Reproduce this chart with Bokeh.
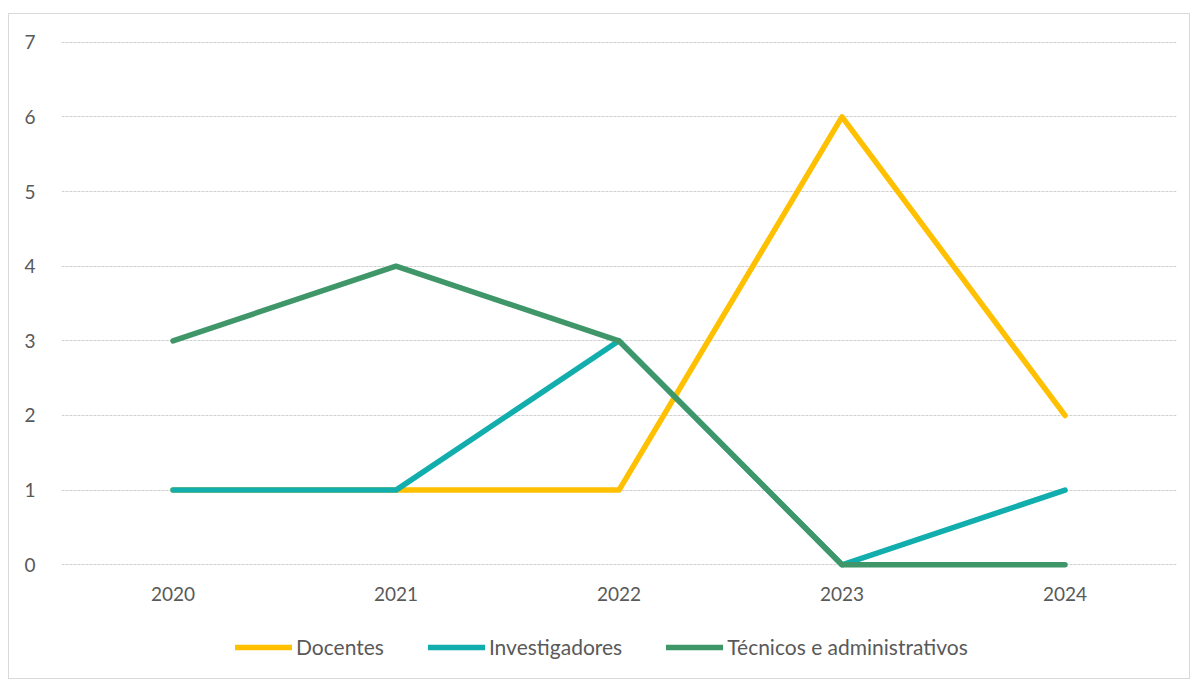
from bokeh.plotting import figure
from bokeh.layouts import column
from bokeh.models import Legend, LegendItem
from bokeh.embed import file_html
from bokeh.resources import INLINE

years = ["2020", "2021", "2022", "2023", "2024"]
docentes = [1, 1, 1, 6, 2]
investigadores = [1, 1, 3, 0, 1]
tecnicos = [3, 4, 3, 0, 0]
series_names = ["Docentes", "Investigadores", "Técnicos e administrativos"]
colors = ["#FFC000", "#12ADAD", "#3F9668"]

FONT = "Lato"
TXT = "#595959"
LW = 5.5

p = figure(x_range=years, y_range=(-0.05, 7.05), width=1180, height=610,
           output_backend="svg", toolbar_location=None,
           min_border_left=52, min_border_right=13, min_border_top=24, min_border_bottom=56)
p.outline_line_color = None
p.background_fill_color = "white"
p.border_fill_color = "white"

for vals, c in zip([docentes, investigadores, tecnicos], colors):
    p.line(years, vals, line_color=c, line_width=LW, line_cap="round", line_join="round")

p.xgrid.grid_line_color = None
p.ygrid.grid_line_color = "#d0d0d0"
p.ygrid.grid_line_dash = "3 1"
p.ygrid.grid_line_width = 1

for ax in (p.xaxis, p.yaxis):
    ax.axis_line_color = None
    ax.major_tick_line_color = None
    ax.minor_tick_line_color = None
    ax.major_label_text_font = FONT
    ax.major_label_text_font_size = "19px"
    ax.major_label_text_color = TXT
p.yaxis.ticker = list(range(0, 8))
p.yaxis.major_label_standoff = 20
p.xaxis.major_label_standoff = 12

# legend strip (its lines carry the series data but lie outside the strip's visible range)
q = figure(width=1180, height=54, x_range=(0, 1), y_range=(100, 101),
           output_backend="svg", toolbar_location=None,
           min_border_left=0, min_border_right=0, min_border_top=0, min_border_bottom=0)
q.outline_line_color = None
q.axis.visible = False
q.grid.visible = False
q.border_fill_color = "white"
leg_renderers = [q.line(x=list(range(len(vals))), y=vals, line_color=c, line_width=LW, line_cap="round")
                 for vals, c in zip([docentes, investigadores, tecnicos], colors)]
legend = Legend(items=[LegendItem(label=n, renderers=[r]) for n, r in zip(series_names, leg_renderers)],
                orientation="horizontal", location=(174, 19),
                glyph_width=57, glyph_height=20, label_standoff=4, spacing=44,
                label_text_font=FONT, label_text_font_size="21px", label_text_color=TXT,
                border_line_color=None, background_fill_alpha=0, margin=0, padding=5)
q.add_layout(legend, "center")

layout = column(p, q, spacing=0)
layout.styles = {"border": "1px solid #d9d9d9", "margin-top": "13px", "margin-left": "8px"}

open("out.html", "w").write(file_html(layout, INLINE))
